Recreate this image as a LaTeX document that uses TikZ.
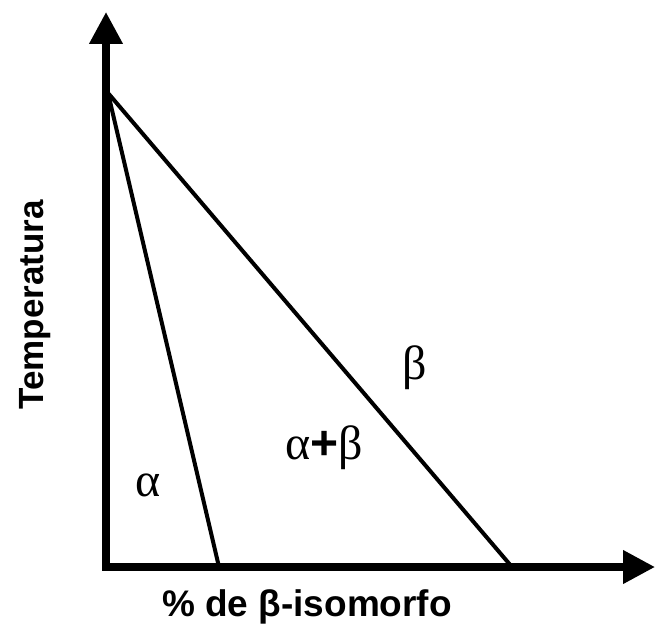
\documentclass[tikz,border=0pt]{standalone}
\usepackage{fontspec}
\setmainfont{Liberation Sans}
\newfontfamily\grk{Liberation Serif}
\usetikzlibrary{arrows.meta}
\begin{document}
\begin{tikzpicture}[x=0.5pt,y=-0.5pt,
  axis/.style={line width=3.6pt,-{Triangle[width=16pt,length=16pt]}},
  phaseline/.style={line width=2pt},
  axlabel/.style={font=\fontsize{17.5}{20}\selectfont\bfseries,inner sep=0pt},
  phase/.style={font=\fontsize{24}{28}\selectfont\grk,inner sep=0pt}]
\useasboundingbox (0,0) rectangle (656,630);
\coordinate (O) at (106,567);
\coordinate (Ytop) at (106,12);
\coordinate (Xend) at (655,567);
\coordinate (A) at (108,93);
\coordinate (B1) at (219,567);
\coordinate (B2) at (512,567);
\draw[axis] ([yshift=1.8pt]O) -- (Ytop);
\draw[axis] ([xshift=-1.8pt]O) -- (Xend);
\draw[phaseline] (A) -- (B1);
\draw[phaseline] (A) -- (B2);
\node[axlabel,rotate=90] (ylab) at (35,305) {Temperatura};
\node[axlabel,font=\fontsize{18.5}{21}\selectfont\bfseries] (xlab) at (307,607) {\% de β-isomorfo};
\node[phase] (alpha) at (148,485) {α};
\node[phase] (ab) at (324,448) {α{\fontspec{Liberation Sans Bold}+}β};
\node[phase] (beta) at (415,368) {β};
\end{tikzpicture}
\end{document}
